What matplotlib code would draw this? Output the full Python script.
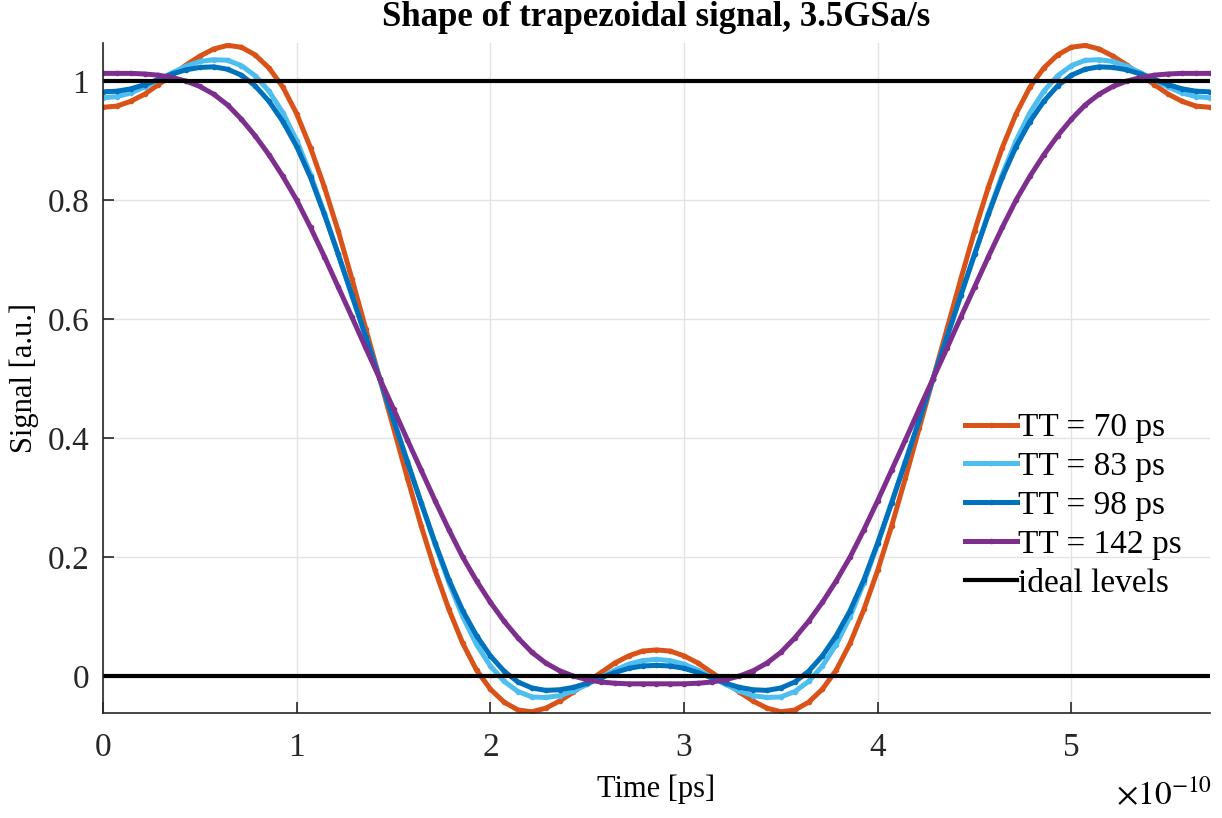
import matplotlib
matplotlib.use("Agg")
import matplotlib.pyplot as plt
import numpy as np
from matplotlib.ticker import FuncFormatter, FixedLocator

# one period of the 3.5 GSa/s pattern, 81 samples
time = np.linspace(0, 2 / 3.5e9, 81)

tt_70 = [
    0.956, 0.958, 0.966, 0.978, 0.994, 1.010, 1.027, 1.042, 1.054, 1.060,
    1.057, 1.044, 1.022, 0.990, 0.945, 0.888, 0.822, 0.748, 0.667, 0.583,
    0.500, 0.417, 0.333, 0.252, 0.178, 0.112, 0.055, 0.010, -0.022, -0.044,
    -0.057, -0.060, -0.054, -0.042, -0.027, -0.010, 0.006, 0.022, 0.034, 0.042,
    0.044,
    0.042, 0.034, 0.022, 0.006, -0.010, -0.027, -0.042, -0.054, -0.060, -0.057,
    -0.044, -0.022, 0.010, 0.055, 0.112, 0.178, 0.252, 0.333, 0.417, 0.500,
    0.583, 0.667, 0.748, 0.822, 0.888, 0.945, 0.990, 1.022, 1.044, 1.057,
    1.060, 1.054, 1.042, 1.027, 1.010, 0.994, 0.978, 0.966, 0.958, 0.956,
]
tt_83 = [
    0.972, 0.974, 0.980, 0.990, 1.002, 1.014, 1.025, 1.033, 1.036, 1.035,
    1.026, 1.009, 0.983, 0.947, 0.900, 0.843, 0.778, 0.709, 0.639, 0.569,
    0.500, 0.431, 0.361, 0.291, 0.222, 0.157, 0.100, 0.053, 0.017, -0.009,
    -0.026, -0.035, -0.036, -0.033, -0.025, -0.014, -0.002, 0.010, 0.020, 0.026,
    0.028,
    0.026, 0.020, 0.010, -0.002, -0.014, -0.025, -0.033, -0.036, -0.035, -0.026,
    -0.009, 0.017, 0.053, 0.100, 0.157, 0.222, 0.291, 0.361, 0.431, 0.500,
    0.569, 0.639, 0.709, 0.778, 0.843, 0.900, 0.947, 0.983, 1.009, 1.026,
    1.035, 1.036, 1.033, 1.025, 1.014, 1.002, 0.990, 0.980, 0.974, 0.972,
]
tt_98 = [
    0.982, 0.983, 0.987, 0.994, 1.003, 1.012, 1.019, 1.023, 1.024, 1.020,
    1.010, 0.992, 0.966, 0.932, 0.890, 0.838, 0.776, 0.709, 0.640, 0.570,
    0.500, 0.430, 0.360, 0.291, 0.224, 0.162, 0.110, 0.068, 0.034, 0.008,
    -0.010, -0.020, -0.024, -0.023, -0.019, -0.012, -0.003, 0.006, 0.013, 0.017,
    0.018,
    0.017, 0.013, 0.006, -0.003, -0.012, -0.019, -0.023, -0.024, -0.020, -0.010,
    0.008, 0.034, 0.068, 0.110, 0.162, 0.224, 0.291, 0.360, 0.430, 0.500,
    0.570, 0.640, 0.709, 0.776, 0.838, 0.890, 0.932, 0.966, 0.992, 1.010,
    1.020, 1.024, 1.023, 1.019, 1.012, 1.003, 0.994, 0.987, 0.983, 0.982,
]
tt_142 = [
    1.013, 1.013, 1.013, 1.012, 1.010, 1.006, 1.000, 0.991, 0.978, 0.960,
    0.936, 0.908, 0.876, 0.840, 0.800, 0.754, 0.705, 0.654, 0.603, 0.551,
    0.500, 0.449, 0.397, 0.346, 0.295, 0.246, 0.200, 0.160, 0.124, 0.092,
    0.064, 0.040, 0.022, 0.009, 0.000, -0.006, -0.010, -0.012, -0.013, -0.013,
    -0.013,
    -0.013, -0.013, -0.012, -0.010, -0.006, 0.000, 0.009, 0.022, 0.040, 0.064,
    0.092, 0.124, 0.160, 0.200, 0.246, 0.295, 0.346, 0.397, 0.449, 0.500,
    0.551, 0.603, 0.654, 0.705, 0.754, 0.800, 0.840, 0.876, 0.908, 0.936,
    0.960, 0.978, 0.991, 1.000, 1.006, 1.010, 1.012, 1.013, 1.013, 1.013,
]
ideal_levels = [0, 1]

x_ticks = [0, 1e-10, 2e-10, 3e-10, 4e-10, 5e-10]
y_ticks = [0, 0.2, 0.4, 0.6, 0.8, 1.0]

series = [
    ("TT = 70 ps", tt_70, "#D95319"),
    ("TT = 83 ps", tt_83, "#4DBEEE"),
    ("TT = 98 ps", tt_98, "#0072BD"),
    ("TT = 142 ps", tt_142, "#7E2F8E"),
]

plt.rcParams["font.family"] = ["Liberation Serif", "DejaVu Serif"]
plt.rcParams["mathtext.fontset"] = "stix"

fig = plt.figure(figsize=(12.22, 8.18), dpi=100)
ax = fig.add_axes([0.0843, 0.1284, 0.9057, 0.819])

for label, values, color in series:
    ax.plot(time, values, color=color, lw=3.6, marker=".", ms=6, label=label)

for i, level in enumerate(ideal_levels):
    ax.plot(time[[0, -1]], [level, level], color="black", lw=3,
            label="ideal levels" if i == 0 else None)

ax.set_xlim(time[0], time[-1])
ax.set_ylim(-0.062, 1.064)
ax.xaxis.set_major_locator(FixedLocator(x_ticks))
ax.xaxis.set_major_formatter(FuncFormatter(lambda v, p: "%g" % round(v / 1e-10, 6)))
ax.yaxis.set_major_locator(FixedLocator(y_ticks))
ax.yaxis.set_major_formatter(FuncFormatter(lambda v, p: "%g" % round(v, 6)))

ax.grid(True, color="#e3e3e3", lw=1)
ax.set_axisbelow(True)
for side in ["top", "right"]:
    ax.spines[side].set_visible(False)
for side in ["left", "bottom"]:
    ax.spines[side].set_color("#262626")
    ax.spines[side].set_linewidth(1.2)
ax.tick_params(direction="in", length=8, width=1.2, colors="#262626",
               labelsize=24)
ax.tick_params(axis="x", pad=14)
ax.tick_params(axis="y", pad=10)

ax.set_title("Shape of trapezoidal signal, 3.5GSa/s", fontsize=25,
             fontweight="bold", pad=12)
ax.set_xlabel("Time [ps]", fontsize=22, labelpad=8)
ax.set_ylabel("Signal [a.u.]", fontsize=22, labelpad=6)
fig.text(0.992, 0.008, r"$\times10^{-10}$", fontsize=24, ha="right", va="bottom")

ax.legend(loc="upper right", bbox_to_anchor=(0.993, 0.478), frameon=False,
          fontsize=24, handlelength=1.55, handletextpad=0.05,
          labelspacing=0.25, borderpad=0.1)

fig.savefig("out.png", dpi=100)
